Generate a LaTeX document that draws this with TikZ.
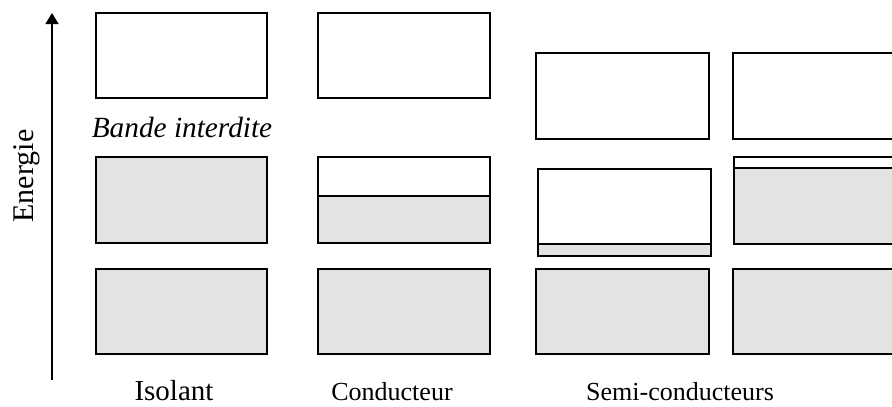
\documentclass[tikz,border=0pt]{standalone}
\usepackage{fontspec}
\setmainfont{Liberation Serif}
\usetikzlibrary{arrows.meta}
\definecolor{bandgray}{HTML}{E3E3E3}
\tikzset{
  band/.style={draw=black, line width=1.6pt, inner sep=0pt, outer sep=0pt},
  full/.style={band, fill=bandgray},
  empty/.style={band, fill=white},
  lbl/.style={inner sep=0pt, anchor=base},
}
\begin{document}
\begin{tikzpicture}[x=1pt,y=-1pt]
\useasboundingbox (0,0) rectangle (892,407);
\clip (0,0) rectangle (892,407);
% energy axis
\coordinate (ebot) at (52,380);
\coordinate (etop) at (52,13);
\draw[line width=1.6pt, -{Triangle[width=13pt,length=11pt]}] (ebot) -- (etop);
\node[lbl, rotate=90, font=\fontsize{30}{34}\selectfont] (energie) at (33,176) {Energie};
% Isolant
\draw[empty] (96,13) rectangle (267,98);
\node[lbl, font=\fontsize{29.3}{34}\selectfont\itshape] (bi) at (182,137) {Bande interdite};
\draw[full] (96,157) rectangle (267,243);
\draw[full] (96,269) rectangle (267,354);
\node[lbl, font=\fontsize{29}{33}\selectfont] (iso) at (174,400) {Isolant};
% Conducteur
\draw[empty] (318,13) rectangle (490,98);
\draw[full] (318,196) rectangle (490,243);
\draw[band] (318,157) rectangle (490,243);
\draw[band] (318,196) -- (490,196);
\draw[full] (318,269) rectangle (490,354);
\node[lbl, font=\fontsize{26}{30}\selectfont] (cond) at (392,400) {Conducteur};
% Semi-conducteurs, left
\draw[empty] (536,53) rectangle (709,139);
\draw[full] (538,244) rectangle (711,256);
\draw[band] (538,169) rectangle (711,256);
\draw[full] (536,269) rectangle (709,354);
% Semi-conducteurs, right
\draw[empty] (733,53) rectangle (910,139);
\draw[full] (734,168) rectangle (910,244);
\draw[band] (734,157) rectangle (910,244);
\draw[full] (733,269) rectangle (910,354);
\node[lbl, font=\fontsize{26}{30}\selectfont] (semi) at (680,400) {Semi-conducteurs};
\end{tikzpicture}
\end{document}
